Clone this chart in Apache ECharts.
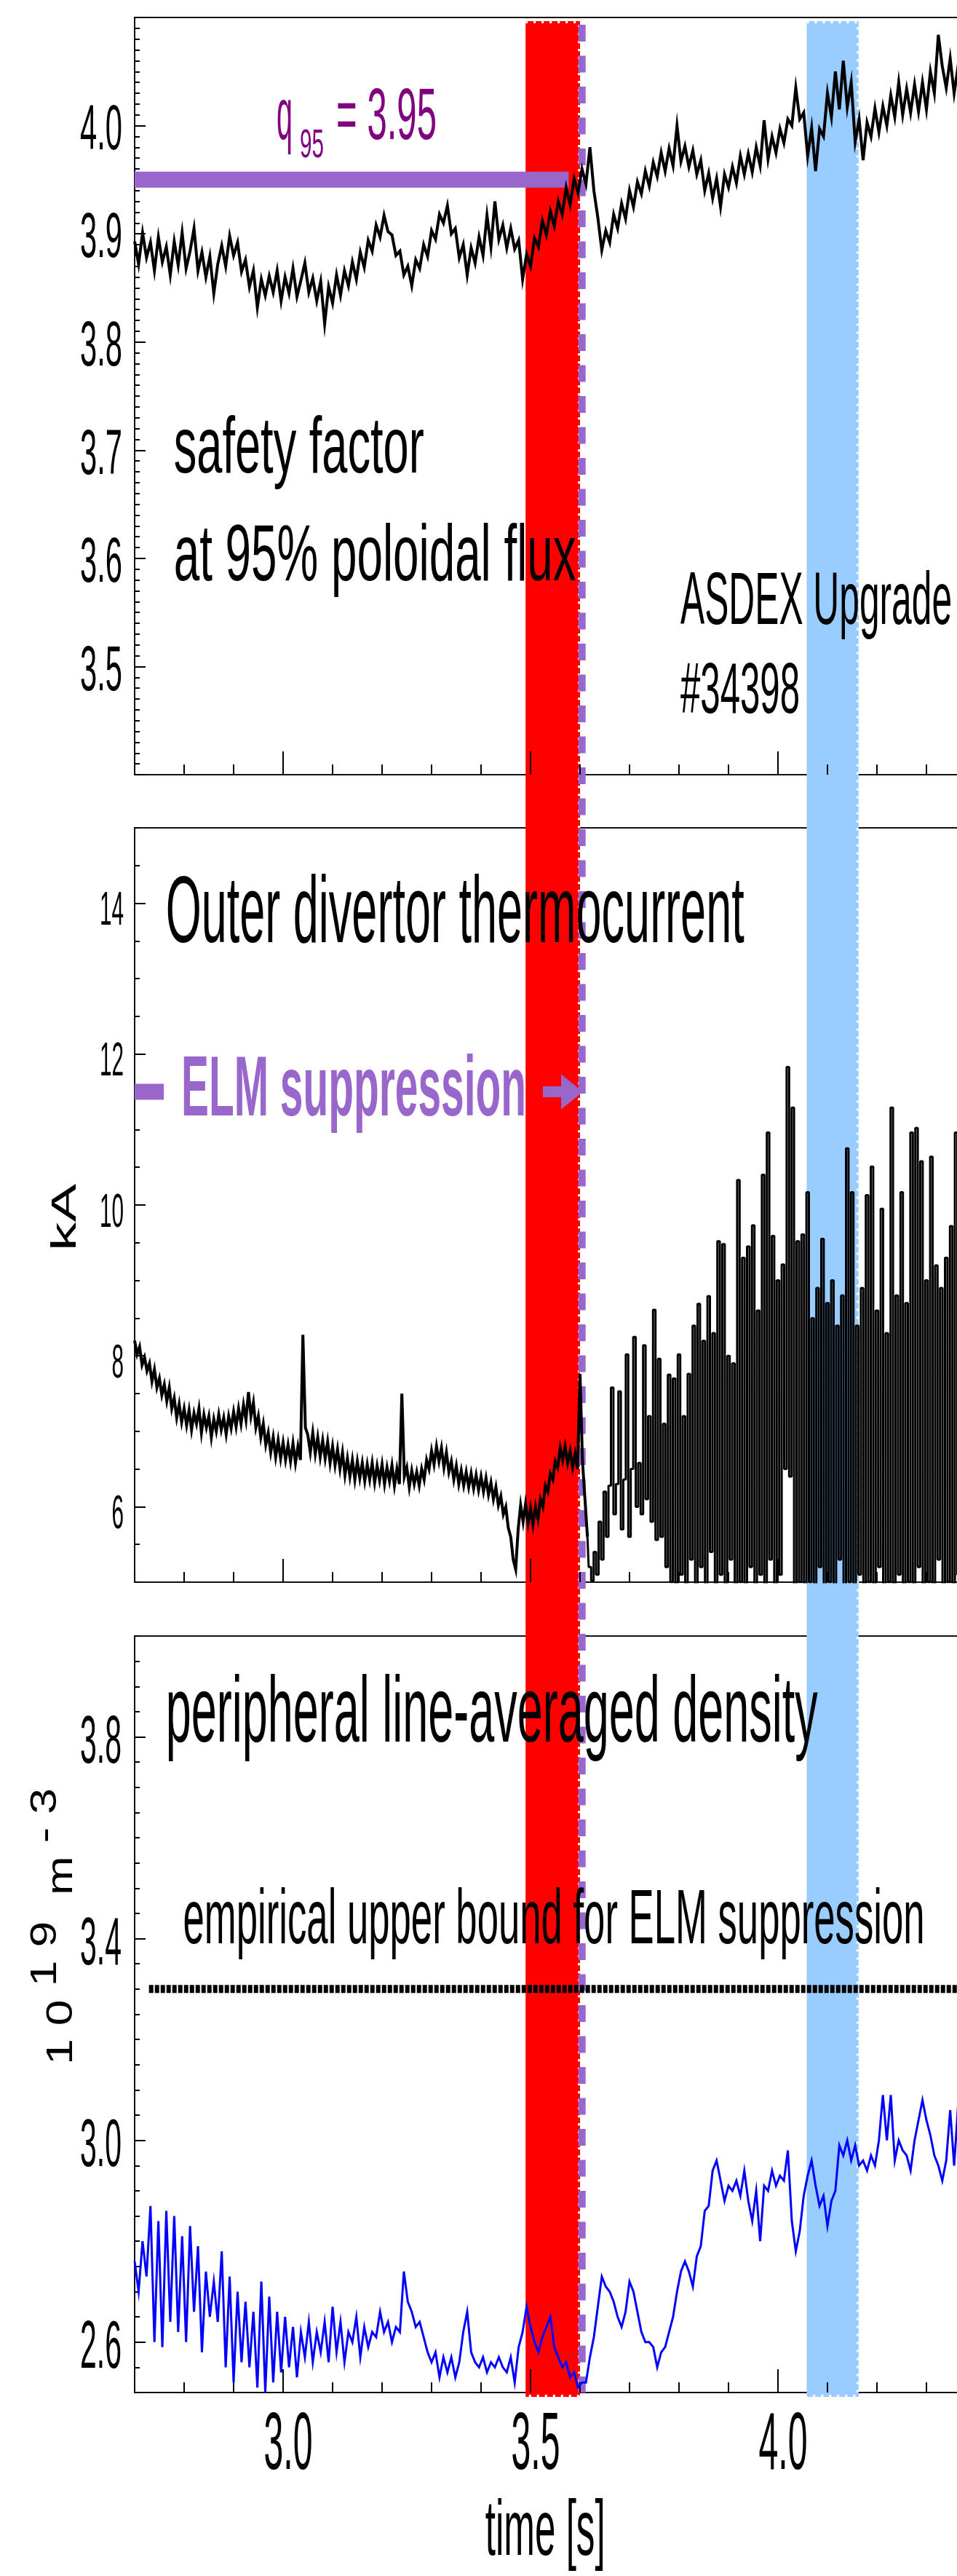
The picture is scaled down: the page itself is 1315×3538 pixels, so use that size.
<!DOCTYPE html>
<html>
<head>
<meta charset="utf-8">
<title>ASDEX Upgrade #34398 - ELM suppression</title>
<script src="https://cdn.jsdelivr.net/npm/echarts@6.0.0/dist/echarts.min.js"></script>
<style>
  html, body { margin: 0; padding: 0; background: #fff; overflow: hidden; }
  #chart { width: 1500px; height: 3538px; }
</style>
</head>
<body>
<div id="chart"></div>
<script>
// ---------------------------------------------------------------------------
// Sampled signals, uniform clock: t = start + i * step  [s]
// ---------------------------------------------------------------------------
const q95Start = 2.700, q95Step = 0.008;
const q95Values = [
  3.893,3.872,3.901,3.878,3.892,3.866,3.897,3.874,3.888,3.862,
  3.893,3.871,3.901,3.868,3.884,3.905,3.866,3.883,3.860,3.879,
  3.845,3.872,3.889,3.870,3.898,3.880,3.892,3.865,3.876,3.851,
  3.866,3.832,3.858,3.843,3.861,3.846,3.866,3.838,3.860,3.845,
  3.868,3.842,3.857,3.873,3.846,3.859,3.838,3.856,3.817,3.851,
  3.836,3.862,3.843,3.866,3.852,3.874,3.858,3.883,3.869,3.894,
  3.884,3.908,3.897,3.917,3.902,3.899,3.880,3.884,3.862,3.870,
  3.852,3.876,3.868,3.890,3.879,3.903,3.895,3.918,3.910,3.926,
  3.900,3.905,3.878,3.890,3.862,3.887,3.873,3.897,3.880,3.917,
  3.888,3.930,3.895,3.908,3.887,3.905,3.886,3.894,3.858,3.881,
  3.870,3.896,3.888,3.912,3.899,3.921,3.907,3.930,3.918,3.943,
  3.927,3.951,3.938,3.960,3.946,3.980,3.940,3.915,3.885,3.903,
  3.892,3.918,3.905,3.928,3.914,3.940,3.925,3.948,3.937,3.958,
  3.944,3.966,3.953,3.975,3.958,3.979,3.963,4.000,3.967,3.981,
  3.962,3.977,3.955,3.968,3.940,3.956,3.933,3.951,3.925,3.955,
  3.943,3.962,3.947,3.972,3.955,3.974,3.957,3.980,3.963,4.005,
  3.969,3.990,3.975,3.997,3.984,4.006,4.000,4.035,4.006,4.012,
  3.972,3.998,3.958,3.997,3.990,4.030,4.008,4.050,4.015,4.060,
  4.017,4.040,3.985,4.006,3.968,4.003,3.990,4.016,3.994,4.018,
  4.000,4.028,4.008,4.040,4.010,4.034,4.012,4.038,4.013,4.040,
  4.015,4.050,4.030,4.084,4.055,4.035,4.062,4.030,4.055,4.040,
  4.058
];

const thermoStart = 2.700, thermoStep = 0.005;
const thermoValues = [
  8.20,8.02,8.12,7.88,7.98,7.80,7.90,7.66,7.82,7.58,
  7.70,7.48,7.62,7.40,7.58,7.30,7.44,7.18,7.36,7.12,
  7.30,7.08,7.28,7.02,7.24,7.10,7.30,6.98,7.22,7.05,
  7.20,6.92,7.16,7.00,7.22,7.02,7.18,6.96,7.20,7.04,
  7.26,7.06,7.30,7.10,7.35,7.15,7.52,7.20,7.38,7.05,
  7.20,6.92,7.10,6.82,6.98,6.72,6.92,6.66,6.88,6.64,
  6.85,6.62,6.82,6.60,6.84,6.58,6.80,6.62,8.28,7.05,
  6.95,6.72,6.98,6.70,6.92,6.66,6.88,6.64,6.86,6.58,
  6.80,6.55,6.76,6.50,6.72,6.42,6.64,6.40,6.62,6.36,
  6.60,6.38,6.58,6.34,6.56,6.36,6.58,6.32,6.54,6.35,
  6.56,6.30,6.52,6.34,6.55,6.28,6.50,6.30,7.50,6.40,
  6.52,6.26,6.48,6.30,6.46,6.28,6.50,6.36,6.62,6.50,
  6.74,6.56,6.80,6.60,6.78,6.52,6.72,6.46,6.60,6.36,
  6.54,6.30,6.48,6.28,6.46,6.26,6.44,6.24,6.42,6.22,
  6.40,6.20,6.38,6.16,6.32,6.10,6.26,6.02,6.14,5.90,
  6.00,5.72,5.60,5.30,5.17,5.70,6.02,5.80,6.04,5.78,
  5.98,5.76,6.00,5.84,6.10,6.00,6.28,6.20,6.44,6.36,
  6.60,6.52,6.78,6.62,6.80,6.58,6.74,6.52,6.70,6.50,
  7.76,6.60,6.10,5.60,5.20,5.02,5.40,5.10,5.80,5.30,
  6.20,5.60,6.28,7.58,5.90,6.30,7.53,5.70,6.36,8.02,
  5.60,6.50,8.25,6.00,6.58,5.90,8.14,6.10,7.20,5.80,
  8.61,5.56,7.96,5.60,7.10,5.20,7.75,5.00,7.70,4.90,
  8.02,5.10,7.20,4.90,7.76,5.30,8.40,4.95,8.69,5.20,
  8.20,4.90,8.79,5.40,8.30,4.90,9.52,5.10,9.48,4.90,
  8.00,5.30,7.90,4.90,10.33,5.00,9.30,4.90,9.45,5.20,
  9.73,4.90,8.60,5.10,10.40,4.90,10.96,5.30,9.59,4.90,
  9.00,5.10,9.21,6.50,11.83,6.40,11.29,4.90,9.52,5.00,
  9.61,4.90,10.17,5.00,8.50,4.90,8.90,5.20,9.55,4.90,
  8.70,5.00,9.00,4.90,8.40,5.30,8.80,4.90,10.75,5.00,
  10.17,4.90,8.40,5.10,8.90,4.90,10.13,5.00,10.51,4.90,
  8.60,5.20,9.95,4.90,8.30,5.00,11.29,4.90,8.80,5.10,
  10.17,4.90,8.70,5.00,10.96,4.90,11.02,5.20,10.58,4.90,
  9.00,5.00,10.64,4.90,9.20,5.30,8.90,4.90,9.30,5.00,
  9.72,4.90,10.96,5.10,9.30,4.90,9.00
];

const densityStart = 2.700, densityStep = 0.008;
const densityValues = [
  2.76,2.70,2.80,2.73,2.87,2.60,2.84,2.59,2.86,2.64,
  2.85,2.62,2.81,2.60,2.83,2.66,2.79,2.58,2.74,2.65,
  2.72,2.64,2.78,2.55,2.73,2.52,2.70,2.56,2.68,2.55,
  2.66,2.51,2.72,2.50,2.69,2.52,2.66,2.54,2.65,2.55,
  2.63,2.53,2.62,2.57,2.64,2.56,2.62,2.58,2.64,2.56,
  2.67,2.58,2.64,2.56,2.62,2.60,2.65,2.57,2.63,2.59,
  2.62,2.61,2.66,2.62,2.64,2.60,2.63,2.62,2.74,2.68,
  2.66,2.63,2.64,2.61,2.58,2.56,2.58,2.53,2.57,2.54,
  2.57,2.53,2.56,2.62,2.66,2.58,2.56,2.55,2.57,2.54,
  2.56,2.55,2.57,2.55,2.54,2.57,2.52,2.59,2.62,2.67,
  2.63,2.60,2.58,2.61,2.63,2.65,2.59,2.57,2.55,2.56,
  2.53,2.54,2.51,2.52,2.52,2.57,2.61,2.67,2.73,2.71,
  2.70,2.68,2.65,2.63,2.66,2.72,2.70,2.66,2.62,2.60,
  2.60,2.59,2.55,2.58,2.59,2.62,2.65,2.70,2.74,2.76,
  2.74,2.71,2.77,2.79,2.86,2.87,2.94,2.96,2.92,2.88,
  2.91,2.90,2.92,2.89,2.94,2.88,2.84,2.90,2.80,2.91,
  2.90,2.94,2.91,2.93,2.92,2.98,2.84,2.78,2.82,2.89,
  2.93,2.96,2.91,2.87,2.89,2.83,2.88,2.90,2.99,2.97,
  3.00,2.96,2.99,2.95,2.96,2.94,2.97,2.95,3.00,3.09,
  3.00,3.09,2.96,3.00,2.98,2.97,2.94,3.00,3.04,3.08,
  3.04,3.01,2.97,2.95,2.92,2.96,3.06,2.95,3.07,3.04,
  3.06
];

// Reference levels and time windows
const q95Target = 3.95;            // horizontal marker in the q95 panel
const q95MarkerEnd = 3.577;
const densityBound = 3.30;         // empirical density limit for suppression
const densityBoundFrom = 2.729;
const redWindow = [3.49, 3.60];
const blueWindow = [4.058, 4.163];
const suppressionOnset = 3.604;
const elmLevel = 11.5;
const elmDash = [2.70, 2.759];
const elmArrow = [3.525, 3.606];
const burstStart = 3.615;          // thermocurrent bursts begin after this time

// Axis ranges and tick values
const timeRange = [2.7, 4.5];
const timeMajorTicks = [3.0, 3.5, 4.0, 4.5];
const timeTickLabels = [3.0, 3.5, 4.0];
const q95Range = [3.4, 4.1];
const q95TickLabels = [3.5, 3.6, 3.7, 3.8, 3.9, 4.0];
const thermoRange = [5, 15];
const thermoTickLabels = [6, 8, 10, 12, 14];
const densityRange = [2.5, 4.0];
const densityTickLabels = [2.6, 3.0, 3.4, 3.8];

// ---------------------------------------------------------------------------
const INK = '#000000', RED = '#ff0000', SKY = '#99ccff', PURPLE = '#9966cc',
      PLUM = '#800080', BLUE = '#0000ff';
const FONT = '"Liberation Sans", Arial, Helvetica, sans-serif';

const measureCtx = document.createElement('canvas').getContext('2d');
function measure(text, size, weight) {
  measureCtx.font = (weight || 'normal') + ' ' + size + 'px ' + FONT;
  return measureCtx.measureText(text).width;
}
function fit(text, size, width, weight) { return width / measure(text, size, weight); }

// narrow tall lettering: horizontal scale applied to a regular face
function ctext(x, y, text, size, sx, o) {
  o = o || {};
  return {
    type: 'text', x: x, y: y, scaleX: sx, scaleY: 1, rotation: o.rotation || 0,
    style: {
      text: text,
      font: (o.weight || 'normal') + ' ' + size + 'px ' + FONT,
      fill: o.fill || INK, align: o.align || 'left', verticalAlign: 'middle'
    }
  };
}

function toPairs(start, step, values) {
  return values.map((v, i) => [+(start + i * step).toFixed(4), v]);
}

// text / decoration layer positioned in data coordinates of one panel
function layer(xAxisIndex, yAxisIndex, items, z) {
  return {
    type: 'custom', xAxisIndex: xAxisIndex, yAxisIndex: yAxisIndex,
    z: z || 6, silent: true, animation: false,
    data: items.map(it => [it.at[0], it.at[1]]),
    encode: { x: 0, y: 1 },
    renderItem: (params, api) => {
      const it = items[params.dataIndex];
      return it.draw(api.coord(it.at), api);
    }
  };
}

// ---------------- axes ----------------
const tickLine = { color: INK, width: 2 };
function xMain(g) {
  return { gridIndex: g, type: 'value', min: timeRange[0], max: timeRange[1], position: 'bottom', z: 3,
    axisLine: { show: false }, splitLine: { show: false }, axisLabel: { show: false },
    axisTick: { show: true, inside: true, length: 32, customValues: timeMajorTicks, lineStyle: tickLine } };
}
function xMinor(g) {
  return { gridIndex: g, type: 'value', min: timeRange[0], max: timeRange[1], interval: 0.1, position: 'bottom', z: 3,
    axisLine: { show: false }, splitLine: { show: false }, axisLabel: { show: false },
    axisTick: { show: true, inside: true, length: 14, lineStyle: tickLine } };
}
function yAxisDef(g, range, extra) {
  return Object.assign({ gridIndex: g, type: 'value', min: range[0], max: range[1], position: 'left', z: 3,
    axisLine: { show: false }, splitLine: { show: false }, axisLabel: { show: false } }, extra);
}

const xAxes = [
  xMain(0), xMinor(0),
  xMain(1), xMinor(1),
  xMain(2), xMinor(2),
  { gridIndex: 3, type: 'value', min: timeRange[0], max: timeRange[1], show: false }
];
const yAxes = [
  yAxisDef(0, q95Range, { interval: 0.1,
    axisTick: { show: true, inside: true, length: 15, lineStyle: tickLine },
    minorTick: { show: true, splitNumber: 10, length: 7, lineStyle: tickLine } }),
  yAxisDef(1, thermoRange, { axisTick: { show: true, inside: true, length: 15, customValues: thermoTickLabels, lineStyle: tickLine } }),
  yAxisDef(1, thermoRange, { interval: 0.5, axisTick: { show: true, inside: true, length: 7, lineStyle: tickLine } }),
  yAxisDef(2, densityRange, { axisTick: { show: true, inside: true, length: 15, customValues: densityTickLabels, lineStyle: tickLine } }),
  yAxisDef(2, densityRange, { interval: 0.05, axisTick: { show: true, inside: true, length: 7, lineStyle: tickLine } }),
  { gridIndex: 3, type: 'value', min: 0, max: 1, show: false }
];

// panels run past the right edge of the page; the page shows their left part
const box = { show: true, borderColor: '#111111', borderWidth: 2, backgroundColor: 'transparent', z: 0 };
const grids = [
  Object.assign({ left: 185, top: 24, width: 1224, height: 1040 }, box),
  Object.assign({ left: 185, top: 1137, width: 1224, height: 1036 }, box),
  Object.assign({ left: 185, top: 2247, width: 1224, height: 1039 }, box),
  { left: 185, top: 29, width: 1224, height: 3263, show: false }
];

// ---------------- text layers ----------------
const q95LabelScale = fit('4.0', 88, 58);
const thermoLabelScale = fit('14', 64, 33);
const densityLabelScale = fit('3.8', 93, 57);
const timeLabelScale = fit('3.0', 112, 67);

const panel1Items = [
  ...q95TickLabels.map(v => ({ at: [timeRange[0], v],
    draw: p => ctext(p[0] - 17, p[1] + 8, v.toFixed(1), 88, q95LabelScale, { align: 'right' }) })),
  { at: [2.779, 3.70], draw: p => ctext(p[0], p[1], 'safety factor', 110, fit('safety factor', 110, 344)) },
  { at: [2.779, 3.60], draw: p => ctext(p[0], p[1], 'at 95% poloidal flux', 110, fit('at 95% poloidal flux', 110, 553)) },
  { at: [3.803, 3.5585], draw: p => ctext(p[0], p[1], 'ASDEX Upgrade', 102, fit('ASDEX Upgrade', 102, 373)) },
  { at: [3.803, 3.4756], draw: p => ctext(p[0], p[1], '#34398', 98, fit('#34398', 98, 164)) },
  { at: [2.9868, 4.0064], draw: p => {
      const rest = '= ' + q95Target.toFixed(2);
      return { type: 'group', children: [
        ctext(p[0], p[1], 'q', 100, fit('q', 100, 22), { fill: PLUM }),
        ctext(p[0] + 32, p[1] + 37, '95', 56, fit('95', 56, 33), { fill: PLUM }),
        ctext(p[0] + 82, p[1], rest, 100, fit(rest, 100, 138), { fill: PLUM })
      ] };
    } }
];

const panel2Items = [
  ...thermoTickLabels.map(v => ({ at: [timeRange[0], v],
    draw: p => ctext(p[0] - 15, p[1] + 12, String(v), 64, thermoLabelScale, { align: 'right' }) })),
  { at: [2.7628, 13.83], draw: p => ctext(p[0], p[1], 'Outer divertor thermocurrent', 130, fit('Outer divertor thermocurrent', 130, 795)) },
  { at: [2.7941, elmLevel], draw: p => ctext(p[0], p[1], 'ELM suppression', 116, fit('ELM suppression', 116, 474, 'bold'), { weight: 'bold', fill: PURPLE }) },
  { at: [2.5618, 9.836], draw: p => ctext(p[0], p[1], 'kA', 48, fit('kA', 48, 92), { align: 'center', rotation: Math.PI / 2 }) }
];

const panel3Items = [
  ...densityTickLabels.map(v => ({ at: [timeRange[0], v],
    draw: p => ctext(p[0] - 18, p[1] + 10, v.toFixed(1), 93, densityLabelScale, { align: 'right' }) })),
  ...timeTickLabels.map(t => ({ at: [t, densityRange[0]],
    draw: p => ctext(p[0] + 7, p[1] + 74, t.toFixed(1), 112, timeLabelScale, { align: 'center' }) })),
  { at: [3.5297, densityRange[0]], draw: p => ctext(p[0], p[1] + 193, 'time [s]', 107, fit('time [s]', 107, 165), { align: 'center' }) },
  { at: [2.7628, 3.8416], draw: p => ctext(p[0], p[1], 'peripheral line-averaged density', 128, fit('peripheral line-averaged density', 128, 896)) },
  { at: [2.7979, 3.4333], draw: p => ctext(p[0], p[1], 'empirical upper bound for ELM suppression', 106, fit('empirical upper bound for ELM suppression', 106, 1019)) },
  // unit label, read bottom to top, exponents raised toward the left
  { at: [2.5368, 3.424], draw: p => ({
      type: 'text', x: p[0], y: p[1], rotation: Math.PI / 2, scaleX: 1.29, scaleY: 1,
      style: {
        text: '{b|1 0}{s| 1 9}{b|  m}{s| - 3}',
        align: 'center', verticalAlign: 'middle', fill: INK,
        rich: {
          b: { fontSize: 50, fontFamily: FONT, fill: INK, padding: [22, 0, 0, 0], verticalAlign: 'bottom' },
          s: { fontSize: 50, fontFamily: FONT, fill: INK, verticalAlign: 'top' }
        }
      }
    }) }
];

// thermocurrent: quiet phase as a plain trace, burst phase as vertical strokes
const thermoPairs = toPairs(thermoStart, thermoStep, thermoValues);
const thermoQuiet = thermoPairs.filter(d => d[0] <= burstStart);
const thermoBursts = thermoPairs.filter(d => d[0] >= burstStart);

// ---------------- series ----------------
const series = [
  // shaded time windows spanning all panels
  {
    type: 'custom', xAxisIndex: 6, yAxisIndex: 5, z: 1, silent: true, animation: false,
    data: [[redWindow[0], redWindow[1], 0.5], [blueWindow[0], blueWindow[1], 0.5]],
    encode: { x: [0, 1], y: 2 },
    renderItem: (params, api) => {
      const fill = params.dataIndex === 0 ? RED : SKY;
      const a = api.coord([api.value(0), 1]);
      const b = api.coord([api.value(1), 0]);
      return { type: 'group', children: [
        { type: 'rect', shape: { x: a[0], y: a[1], width: b[0] - a[0], height: b[1] - a[1] }, style: { fill: fill } },
        { type: 'polyline', shape: { points: [[a[0], a[1] + 1.5], [b[0] - 1.5, a[1] + 1.5], [b[0] - 1.5, b[1] - 1.5], [a[0], b[1] - 1.5]] },
          style: { stroke: '#ffffff', lineWidth: 3, lineDash: [3, 8], fill: null } }
      ] };
    }
  },
  // onset of suppression (dashed vertical)
  {
    type: 'custom', xAxisIndex: 6, yAxisIndex: 5, z: 2, silent: true, animation: false,
    data: [[suppressionOnset, 0.5]], encode: { x: 0, y: 1 },
    renderItem: (params, api) => {
      const top = api.coord([api.value(0), 1]);
      const bot = api.coord([api.value(0), 0]);
      return { type: 'line', shape: { x1: top[0], y1: top[1] + 5, x2: top[0], y2: bot[1] - 6 },
        style: { stroke: PURPLE, lineWidth: 10, lineDash: [23, 19.5] } };
    }
  },
  // q95 marker
  {
    type: 'line', xAxisIndex: 0, yAxisIndex: 0, z: 4, silent: true, animation: false, showSymbol: false,
    data: [[timeRange[0], q95Target], [q95MarkerEnd, q95Target]],
    lineStyle: { color: PURPLE, width: 22, cap: 'butt' }
  },
  {
    name: 'q95', type: 'line', xAxisIndex: 0, yAxisIndex: 0, z: 5, silent: true, animation: false,
    showSymbol: false, data: toPairs(q95Start, q95Step, q95Values),
    lineStyle: { color: INK, width: 4, join: 'miter' }
  },
  // ELM suppression dash and arrow
  layer(2, 1, [{ at: [elmDash[0], elmLevel], draw: (p, api) => {
    const d1 = api.coord([elmDash[1], elmLevel])[0];
    const a0 = api.coord([elmArrow[0], elmLevel])[0];
    const a1 = api.coord([elmArrow[1], elmLevel])[0];
    const y = p[1], head = 30, half = 24, shaft = 7.5;
    return { type: 'group', children: [
      { type: 'rect', shape: { x: p[0], y: y - 11, width: d1 - p[0], height: 22 }, style: { fill: PURPLE } },
      { type: 'polygon', shape: { points: [[a0, y - shaft], [a1 - head, y - shaft], [a1 - head, y - half], [a1, y],
          [a1 - head, y + half], [a1 - head, y + shaft], [a0, y + shaft]] }, style: { fill: PURPLE } }
    ] };
  } }], 4),
  {
    name: 'thermocurrent', type: 'line', xAxisIndex: 2, yAxisIndex: 1, z: 5, silent: true, animation: false,
    showSymbol: false, data: thermoQuiet,
    lineStyle: { color: INK, width: 4, join: 'miter' }
  },
  {
    name: 'thermocurrent', type: 'line', xAxisIndex: 2, yAxisIndex: 1, z: 5, silent: true, animation: false,
    showSymbol: false, step: 'middle', data: thermoBursts,
    lineStyle: { color: INK, width: 3 }
  },
  // density limit
  {
    type: 'line', xAxisIndex: 4, yAxisIndex: 3, z: 4, silent: true, animation: false, showSymbol: false,
    data: [[densityBoundFrom, densityBound], [timeRange[1], densityBound]],
    lineStyle: { color: INK, width: 11, type: [6, 2], cap: 'butt' }
  },
  {
    name: 'density', type: 'line', xAxisIndex: 4, yAxisIndex: 3, z: 5, silent: true, animation: false,
    showSymbol: false, data: toPairs(densityStart, densityStep, densityValues),
    lineStyle: { color: BLUE, width: 3, join: 'miter' }
  },
  layer(0, 0, panel1Items),
  layer(2, 1, panel2Items),
  layer(4, 3, panel3Items)
];

const chart = echarts.init(document.getElementById('chart'), null, { renderer: 'canvas', width: 1500, height: 3538 });
chart.setOption({
  animation: false,
  backgroundColor: '#ffffff',
  grid: grids,
  xAxis: xAxes,
  yAxis: yAxes,
  series: series
});
</script>
</body>
</html>
